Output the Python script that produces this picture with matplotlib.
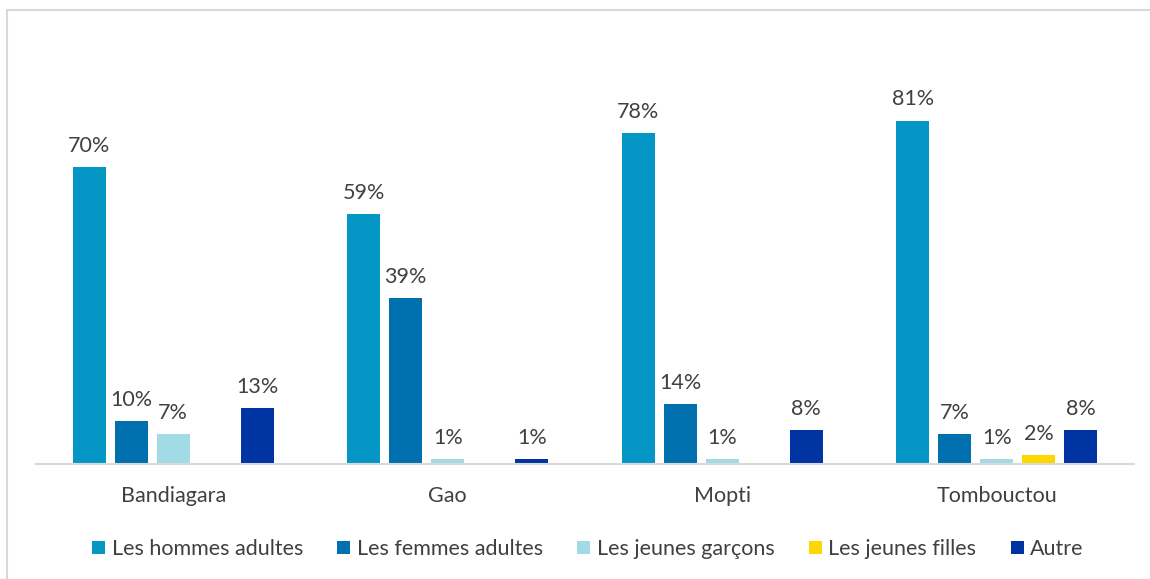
from matplotlib import pyplot as plt
from matplotlib.patches import Rectangle
import numpy as np

plt.rcParams['font.family'] = ['Lato', 'DejaVu Sans']

regions = ['Bandiagara', 'Gao', 'Mopti', 'Tombouctou']
series = ['Les hommes adultes', 'Les femmes adultes', 'Les jeunes garçons',
          'Les jeunes filles', 'Autre']
hommes = [70, 59, 78, 81]
femmes = [10, 39, 14, 7]
garcons = [7, 1, 1, 1]
filles = [None, None, None, 2]
autre = [13, 1, 8, 8]
colors = ['#0497C5', '#0070AF', '#A2DAE6', '#FFD700', '#0034A3']

values = [hommes, femmes, garcons, filles, autre]
txt = '#404040'

fig = plt.figure(figsize=(11.5, 5.79), dpi=100)
fig.patches.append(Rectangle((7/1150, -0.1), 1.2, (579-10)/579 + 0.1,
                             transform=fig.transFigure, fill=False,
                             edgecolor='#d9d9d9', lw=1.5))
ax = fig.add_axes([36/1150, 115.5/579, 1098/1150, (463.5-82.4)/579])

x = np.arange(len(regions))
step = 42/274.5
w = 33/274.5
for i, (name, vals) in enumerate(zip(series, values)):
    pos = x + (i-2)*step
    h = [v if v is not None else 0 for v in vals]
    bars = ax.bar(pos, h, w, color=colors[i], label=name)
    for b, v in zip(bars, vals):
        if v is None:
            continue
        ax.annotate(f'{v}%', (b.get_x()+b.get_width()/2, v), xytext=(0, 8),
                    textcoords='offset points', ha='center', va='bottom',
                    fontsize=15.5, color=txt)

ax.set_xlim(-0.5, 3.5)
ax.set_ylim(0, 90)
ax.set_yticks([])
ax.set_xticks(x)
ax.set_xticklabels(regions, fontsize=15.5, color=txt)
ax.tick_params(axis='x', length=0, pad=16)
for s in ['top', 'right', 'left']:
    ax.spines[s].set_visible(False)
ax.spines['bottom'].set_color('#d9d9d9')
ax.spines['bottom'].set_linewidth(1.5)

fig.legend(loc='center', bbox_to_anchor=(588/1150, 1-549/579), ncol=5,
           frameon=False, fontsize=15.5, handlelength=0.6, handleheight=0.6,
           handletextpad=0.3, columnspacing=1.6, labelcolor=txt)

plt.savefig('out.png')
